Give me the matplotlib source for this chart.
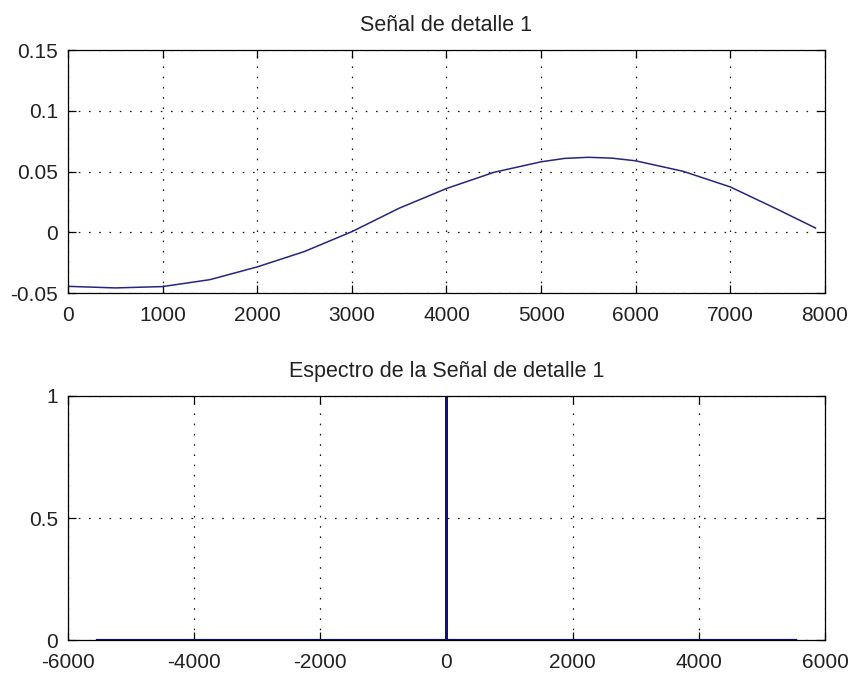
import matplotlib
matplotlib.use('Agg')
import matplotlib.pyplot as plt

# Señal de detalle 1 (muestras)
n_muestra = [0, 500, 1000, 1500, 2000, 2500, 3000, 3500, 4000, 4500,
             5000, 5250, 5500, 5750, 6000, 6500, 7000, 7500, 7900]
detalle = [-0.0445, -0.0458, -0.0447, -0.0390, -0.0285, -0.0158, 0.0005, 0.0198, 0.0360, 0.0493,
           0.0580, 0.0608, 0.0617, 0.0610, 0.0588, 0.0502, 0.0373, 0.0188, 0.0035]

# Espectro normalizado
frecuencia = [-5540, -1, 0, 1, 5540]
espectro = [0, 0, 1, 0, 0]

plt.rcParams['font.family'] = ['Liberation Sans', 'DejaVu Sans']
plt.rcParams['font.size'] = 15
plt.rcParams['axes.unicode_minus'] = False

fig = plt.figure(figsize=(8.51, 6.73), dpi=100)
fig.patch.set_facecolor('white')

ax1 = fig.add_axes([0.0799, 0.5646, 0.8895, 0.3611])
ax2 = fig.add_axes([0.0799, 0.0490, 0.8895, 0.3626])


def estilo_matlab(ax):
    ax.grid(True, color='0.1', linestyle=(0, (1.3, 6.9)), linewidth=0.9)
    ax.tick_params(direction='in', length=6, width=0.9, top=True, right=True,
                   labelsize=15, colors='black', labelcolor='#222222')
    ax.tick_params(axis='x', pad=9)
    ax.tick_params(axis='y', pad=7)
    for s in ax.spines.values():
        s.set_linewidth(0.9)
        s.set_color('black')


ax1.plot(n_muestra, detalle, color='#26267a', linewidth=1.1)
ax1.set_xlim(0, 8000)
ax1.set_ylim(-0.05, 0.15)
ax1.set_xticks([0, 1000, 2000, 3000, 4000, 5000, 6000, 7000, 8000])
ax1.set_yticks([-0.05, 0, 0.05, 0.1, 0.15])
ax1.set_yticklabels(['-0.05', '0', '0.05', '0.1', '0.15'])
ax1.set_title('Señal de detalle 1', fontsize=15.5, pad=14, color='#222222')
estilo_matlab(ax1)

ax2.plot(frecuencia, espectro, color='#12126a', linewidth=1.6)
ax2.set_xlim(-6000, 6000)
ax2.set_ylim(0, 1)
ax2.set_xticks([-6000, -4000, -2000, 0, 2000, 4000, 6000])
ax2.set_yticks([0, 0.5, 1])
ax2.set_yticklabels(['0', '0.5', '1'])
ax2.set_title('Espectro de la Señal de detalle 1', fontsize=15.5, pad=14, color='#222222')
estilo_matlab(ax2)

fig.savefig('out.png', dpi=100, facecolor='white')
